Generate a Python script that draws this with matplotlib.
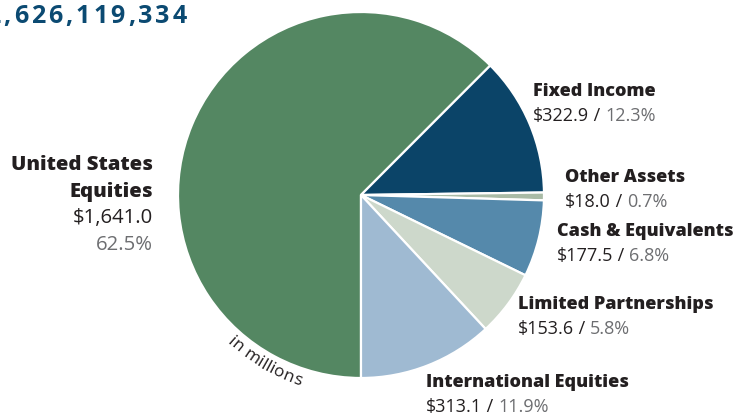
import numpy as np
import matplotlib
matplotlib.use("Agg")
import matplotlib.pyplot as plt

# Portfolio allocation, in millions of dollars
categories = ["United States\nEquities", "Fixed Income", "Other Assets",
              "Cash & Equivalents", "Limited Partnerships", "International Equities"]
amounts = [1641.0, 322.9, 18.0, 177.5, 153.6, 313.1]
percents = ["62.5%", "12.3%", "0.7%", "6.8%", "5.8%", "11.9%"]
total_label = "$2,626,119,334"

colors = ["#548762", "#0b4468", "#a9bba6", "#5589ab", "#cdd8cb", "#9fbad2"]
DARK = "#231f20"
GRAY = "#6d6e71"
TITLE = "#0b4a72"

W, H = 738, 415
fig = plt.figure(figsize=(W / 100, H / 100), dpi=100)
ax = fig.add_axes([0, 0, 1, 1])

cx, cy, R = 361, H - 195, 183
ax.pie(amounts, colors=colors, startangle=-90, counterclock=False,
       center=(cx, cy), radius=R, frame=True,
       wedgeprops=dict(edgecolor="white", linewidth=1.6))
ax.set_xlim(0, W)
ax.set_ylim(0, H)
ax.axis("off")

FONT = "Open Sans"
renderer = fig.canvas.get_renderer()


def pieces(x, y, parts, fs, ha="left"):
    """Draw consecutive text runs with their own colours on one baseline."""
    texts = []
    cur = x
    for s, c, w in parts:
        t = ax.text(cur, y, s, color=c, fontsize=fs, fontweight=w,
                    family=FONT, ha="left", va="baseline")
        cur += t.get_window_extent(renderer).width
        texts.append(t)
    if ha == "right":
        shift = cur - x
        for t in texts:
            px, py = t.get_position()
            t.set_position((px - shift, py))


FS = 13.0


def label(x, y_base, idx):
    pieces(x, H - y_base, [(categories[idx], DARK, 800)], FS)
    pieces(x, H - y_base - 25,
           [(f"${amounts[idx]:,.1f}", DARK, "normal"), (" / ", DARK, "normal"),
            (percents[idx], GRAY, "normal")], FS)


label(533, 96, 1)
label(565, 182, 2)
label(557, 236, 3)
label(518, 309, 4)
label(426, 387, 5)

# United States Equities, right aligned on the left
US_FS = 14.6
pieces(153, H - 170, [("United States", DARK, 800)], US_FS, ha="right")
pieces(153, H - 197, [("Equities", DARK, 800)], US_FS, ha="right")
pieces(153, H - 223, [(f"${amounts[0]:,.1f}", DARK, "normal")], US_FS, ha="right")
pieces(153, H - 250, [(percents[0], GRAY, "normal")], US_FS, ha="right")

# Total, letter-spaced and running off the left edge
track = 3.0
cur = 0.0
chars = []
for ch in total_label:
    t = ax.text(cur, H - 23, ch, color=TITLE, fontsize=18, fontweight="bold",
                family=FONT, ha="left", va="baseline")
    w = t.get_window_extent(renderer).width
    chars.append(t)
    cur += w + track
shift = 187 - (cur - track)
for t in chars:
    px, py = t.get_position()
    t.set_position((px + shift, py))

# "in millions" set along the outside of the pie
word = "in millions"
r_txt = 196
tsize = 12.5
widths = []
for ch in word:
    t = ax.text(0, 0, ch, fontsize=tsize, family=FONT)
    widths.append(t.get_window_extent(renderer).width)
    t.remove()
total_w = sum(widths)
mid_ang = np.deg2rad(240)
ang0 = mid_ang - (total_w / 2) / r_txt
acc = 0
for ch, w in zip(word, widths):
    a = ang0 + (acc + w / 2) / r_txt
    acc += w
    x = cx + r_txt * np.cos(a)
    y = cy + r_txt * np.sin(a)
    ax.text(x, y, ch, fontsize=tsize, family=FONT, color=DARK,
            rotation=np.rad2deg(a) + 90, rotation_mode="anchor",
            ha="center", va="center")

fig.savefig("out.png", dpi=100)
